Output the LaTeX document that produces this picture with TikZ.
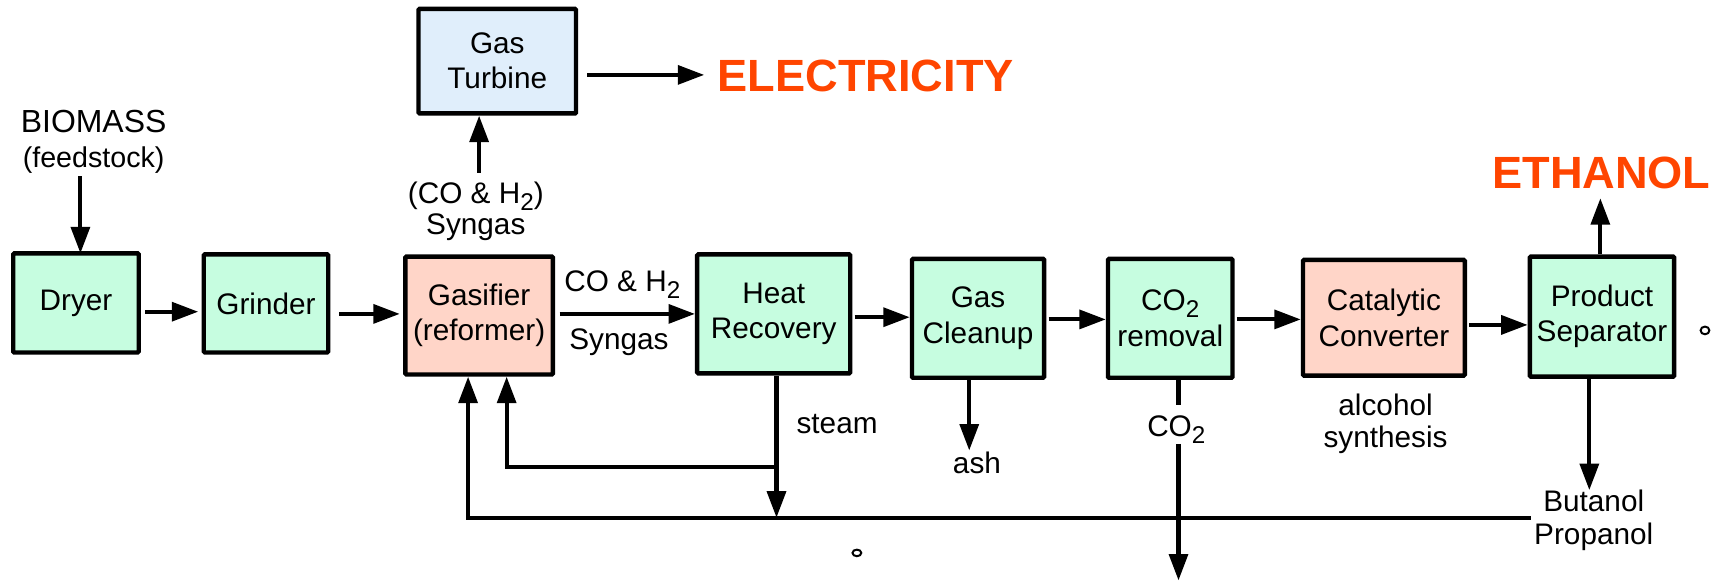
\documentclass[tikz,border=0pt]{standalone}
\usepackage{fontspec}
\setmainfont{Liberation Sans}
\usetikzlibrary{arrows.meta}
\definecolor{mint}{HTML}{C6FDE0}
\definecolor{salmon}{HTML}{FFD5C8}
\definecolor{skyb}{HTML}{E0EEFB}
\definecolor{outred}{HTML}{FF4500}
\newcommand\subtwo{\raisebox{-0.45ex}{\fontsize{22}{22}\selectfont 2}}
\begin{document}
\begin{tikzpicture}[x=1pt,y=-1pt,
  box/.style={draw=black,line width=4pt,rounded corners=1pt,align=center,inner sep=0pt,font=\fontsize{27}{32}\selectfont},
  flow/.style={line width=3.7pt,-{Triangle[length=24pt,width=17pt]}},
  plain/.style={line width=3.7pt},
  lbl/.style={align=center,font=\fontsize{27}{30}\selectfont,inner sep=0pt},
  prod/.style={font=\fontsize{41}{41}\selectfont\bfseries,text=outred,inner sep=0pt},
  dot/.style={line width=1.8pt},
]
\useasboundingbox (0,0) rectangle (1568,528);

% boxes
\node[box,fill=skyb,minimum width=143pt,minimum height=95pt] (gt) at (451.5,55.5) {Gas\\Turbine};
\node[box,fill=mint,minimum width=114pt,minimum height=90pt] (dryer) at (69,275) {Dryer};
\node[box,fill=mint,minimum width=113pt,minimum height=89pt] (grinder) at (241.5,275.5) {Grinder};
\node[box,fill=salmon,minimum width=134pt,minimum height=107pt] (gas) at (435,286.5) {Gasifier\\(reformer)};
\node[box,fill=mint,minimum width=139pt,minimum height=108pt] (hr) at (702.5,285) {Heat\\Recovery};
\node[box,fill=mint,minimum width=120pt,minimum height=108pt] (gc) at (888,289) {Gas\\Cleanup};
\node[box,fill=mint,minimum width=113pt,minimum height=108pt] (cr) at (1062.5,289) {CO\subtwo\\removal};
\node[box,fill=salmon,minimum width=147pt,minimum height=105pt] (cat) at (1256.5,288.5) {Catalytic\\Converter};
\node[box,fill=mint,minimum width=131pt,minimum height=109pt] (sep) at (1454.5,287.5) {Product\\Separator};

% labels
\node[lbl,font=\fontsize{29}{35}\selectfont] (bio) at (85,110) {BIOMASS};
\node[lbl,font=\fontsize{26}{30}\selectfont] (feed) at (85,145) {(feedstock)};
\node[lbl,font=\fontsize{27}{28}\selectfont] (synup) at (432,192) {(CO \& H\subtwo)\\Syngas};
\node[lbl] (coh) at (565,258) {CO \& H\subtwo};
\node[lbl] (syn) at (562,311) {Syngas};
\node[lbl] (steam) at (760,385) {steam};
\node[lbl] (ash) at (887,420) {ash};
\node[lbl] (co2) at (1068,390) {CO\subtwo};
\node[lbl,font=\fontsize{27}{29}\selectfont] (alc) at (1258,385) {alcohol\\synthesis};
\node[lbl] (bp) at (1447,472) {Butanol\\Propanol};
\node[prod] (elec) at (786,69) {ELECTRICITY};
\node[prod] (eth) at (1454,157) {ETHANOL};

% coordinates
\coordinate (hrj) at (705,424);
\coordinate (hrdrop) at (705,470);
\coordinate (innerc) at (460,424);
\coordinate (outerc) at (425,470);
\coordinate (rec) at (1390,470);
\coordinate (co2a) at (1070,368);
\coordinate (co2b) at (1070,403);
\coordinate (co2end) at (1070,527);
\coordinate (ashend) at (880,409);
\coordinate (bpend) at (1443,445);
\coordinate (ethend) at (1453,180);
\coordinate (gtin) at (435,157);

% main flow
\draw[flow] (73,160) -- (73,230);
\draw[flow,shorten <=4pt,shorten >=3pt] ([yshift=-8pt]dryer.east) -- ([yshift=-8pt]dryer.east -| grinder.west);
\draw[flow,shorten <=8pt,shorten >=3pt] ([yshift=-9.5pt]grinder.east) -- ([yshift=-9.5pt]grinder.east -| gas.west);
\draw[flow,shorten <=4pt,shorten >=0pt] ([yshift=1.5pt]gas.east) -- ([yshift=1.5pt]gas.east -| hr.west);
\draw[flow,shorten <=2pt,shorten >=0pt] ([yshift=-3pt]hr.east) -- ([yshift=-3pt]hr.east -| gc.west);
\draw[flow,shorten <=2pt,shorten >=0pt] ([yshift=-1pt]gc.east) -- ([yshift=-1pt]gc.east -| cr.west);
\draw[flow,shorten <=2pt,shorten >=0pt] ([yshift=-1pt]cr.east) -- ([yshift=-1pt]cr.east -| cat.west);
\draw[flow,shorten <=2pt,shorten >=0pt] ([yshift=-6.5pt]cat.east) -- ([yshift=-6.5pt]cat.east -| sep.west);

% turbine
\draw[flow] (gtin) -- (gtin |- gt.south);
\draw[flow,shorten <=8pt,shorten >=12pt] ([yshift=-12.5pt]gt.east) -- ([yshift=-12.5pt]gt.east -| elec.west);

% outputs
\draw[flow] (gc.south -| ashend) -- (ashend);
\draw[plain] (cr.south -| co2a) -- (co2a);
\draw[flow] (co2b) -- (co2end);
\draw[flow] (sep.north -| ethend) -- (ethend);
\draw[flow] (sep.south -| bpend) -- (bpend);

% recycle
\draw[flow] (hr.south -| hrj) -- (hrdrop);
\draw[flow] (hrj) -- (innerc) -- (innerc |- gas.south);
\draw[flow] (rec) -- (outerc) -- (outerc |- gas.south);

% stray marks
\draw[dot] (778,502) ellipse (4 and 3);
\draw[dot] (1548,300) ellipse (4 and 3.5);
\end{tikzpicture}
\end{document}
